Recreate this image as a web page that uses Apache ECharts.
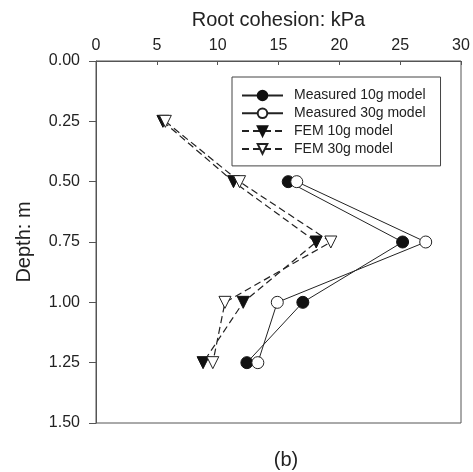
<!DOCTYPE html>
<html><head><meta charset="utf-8">
<script src="https://cdn.jsdelivr.net/npm/echarts@6/dist/echarts.min.js"></script>
<style>html,body{margin:0;padding:0;background:#fff}#c{width:473px;height:472px}</style>
</head><body><div id="c"></div>
<script>
const depths = [0.25, 0.5, 0.75, 1.0, 1.25];
const measDepths = [0.5, 0.75, 1.0, 1.25];
const measured10g = [15.8, 25.2, 17.0, 12.4];
const measured30g = [16.5, 27.1, 14.9, 13.3];
const fem10g = [5.5, 11.3, 18.1, 12.1, 8.8];
const fem30g = [5.7, 11.8, 19.3, 10.6, 9.6];
const xTicks = [0, 5, 10, 15, 20, 25, 30];
const yTicks = [0, 0.25, 0.5, 0.75, 1.0, 1.25, 1.5];
const names = ['Measured 10g model', 'Measured 30g model', 'FEM 10g model', 'FEM 30g model'];

const pairs = (xs, ds) => xs.map((v, i) => [v, ds[i]]);
const font = 'Liberation Sans, Arial, sans-serif';
const lc = '#222';

const chart = echarts.init(document.getElementById('c'));
chart.setOption({
  animation: false,
  textStyle: { fontFamily: font, fontSize: 14, color: '#222' },
  grid: { left: 96, right: 12, top: 61, bottom: 49, show: true, borderColor: '#555', borderWidth: 1 },
  xAxis: {
    type: 'value', position: 'top', min: xTicks[0], max: xTicks[xTicks.length - 1], interval: 5,
    name: 'Root cohesion: kPa', nameLocation: 'middle', nameGap: 31,
    nameTextStyle: { fontFamily: font, fontSize: 20, color: '#222' },
    axisLine: { lineStyle: { color: '#555' } },
    axisTick: { inside: true, length: 4, lineStyle: { color: '#555' } },
    axisLabel: { fontFamily: font, fontSize: 16, color: '#222', margin: 7 },
    splitLine: { show: false }
  },
  yAxis: {
    type: 'value', inverse: true, min: yTicks[0], max: yTicks[yTicks.length - 1], interval: 0.25,
    name: 'Depth: m', nameLocation: 'middle', nameGap: 62, nameRotate: 90,
    nameTextStyle: { fontFamily: font, fontSize: 20, color: '#222' },
    axisLine: { lineStyle: { color: '#555' } },
    axisTick: { inside: false, length: 7, lineStyle: { color: '#555' } },
    axisLabel: { fontFamily: font, fontSize: 16, color: '#222', margin: 16, formatter: v => v.toFixed(2) },
    splitLine: { show: false }
  },
  legend: {
    orient: 'vertical', left: 232, top: 77,
    padding: [11.5, 15, 10, 9],
    itemWidth: 41, itemHeight: 12, itemGap: 3.8,
    borderColor: '#444', borderWidth: 1,
    formatter: n => '{t|' + n + '}',
    textStyle: {
      fontFamily: font, fontSize: 14, color: '#222',
      rich: { t: { fontFamily: font, fontSize: 14, color: '#222', padding: [0, 0, 0, 6] } }
    },
    data: names
  },
  title: {
    text: '(b)', left: 281, top: 445, textAlign: 'center',
    textStyle: { fontFamily: font, fontSize: 20, fontWeight: 'normal', color: '#222' }
  },
  series: [
    { name: names[0], type: 'line', data: pairs(measured10g, measDepths), symbol: 'circle', symbolSize: 12,
      lineStyle: { color: lc, width: 1 }, itemStyle: { color: '#111', borderColor: '#111', borderWidth: 1 }, z: 3 },
    { name: names[1], type: 'line', data: pairs(measured30g, measDepths), symbol: 'circle', symbolSize: 12,
      lineStyle: { color: lc, width: 1 }, itemStyle: { color: '#fff', borderColor: '#222', borderWidth: 1 }, z: 4 },
    { name: names[2], type: 'line', data: pairs(fem10g, depths), symbol: 'triangle', symbolRotate: 180, symbolSize: 12,
      lineStyle: { color: lc, width: 1.2, type: [7, 4] }, itemStyle: { color: '#111', borderColor: '#111', borderWidth: 1 }, z: 3 },
    { name: names[3], type: 'line', data: pairs(fem30g, depths), symbol: 'triangle', symbolRotate: 180, symbolSize: 12,
      lineStyle: { color: lc, width: 1.2, type: [7, 4] }, itemStyle: { color: '#fff', borderColor: '#222', borderWidth: 1 }, z: 4 }
  ]
});
</script></body></html>
